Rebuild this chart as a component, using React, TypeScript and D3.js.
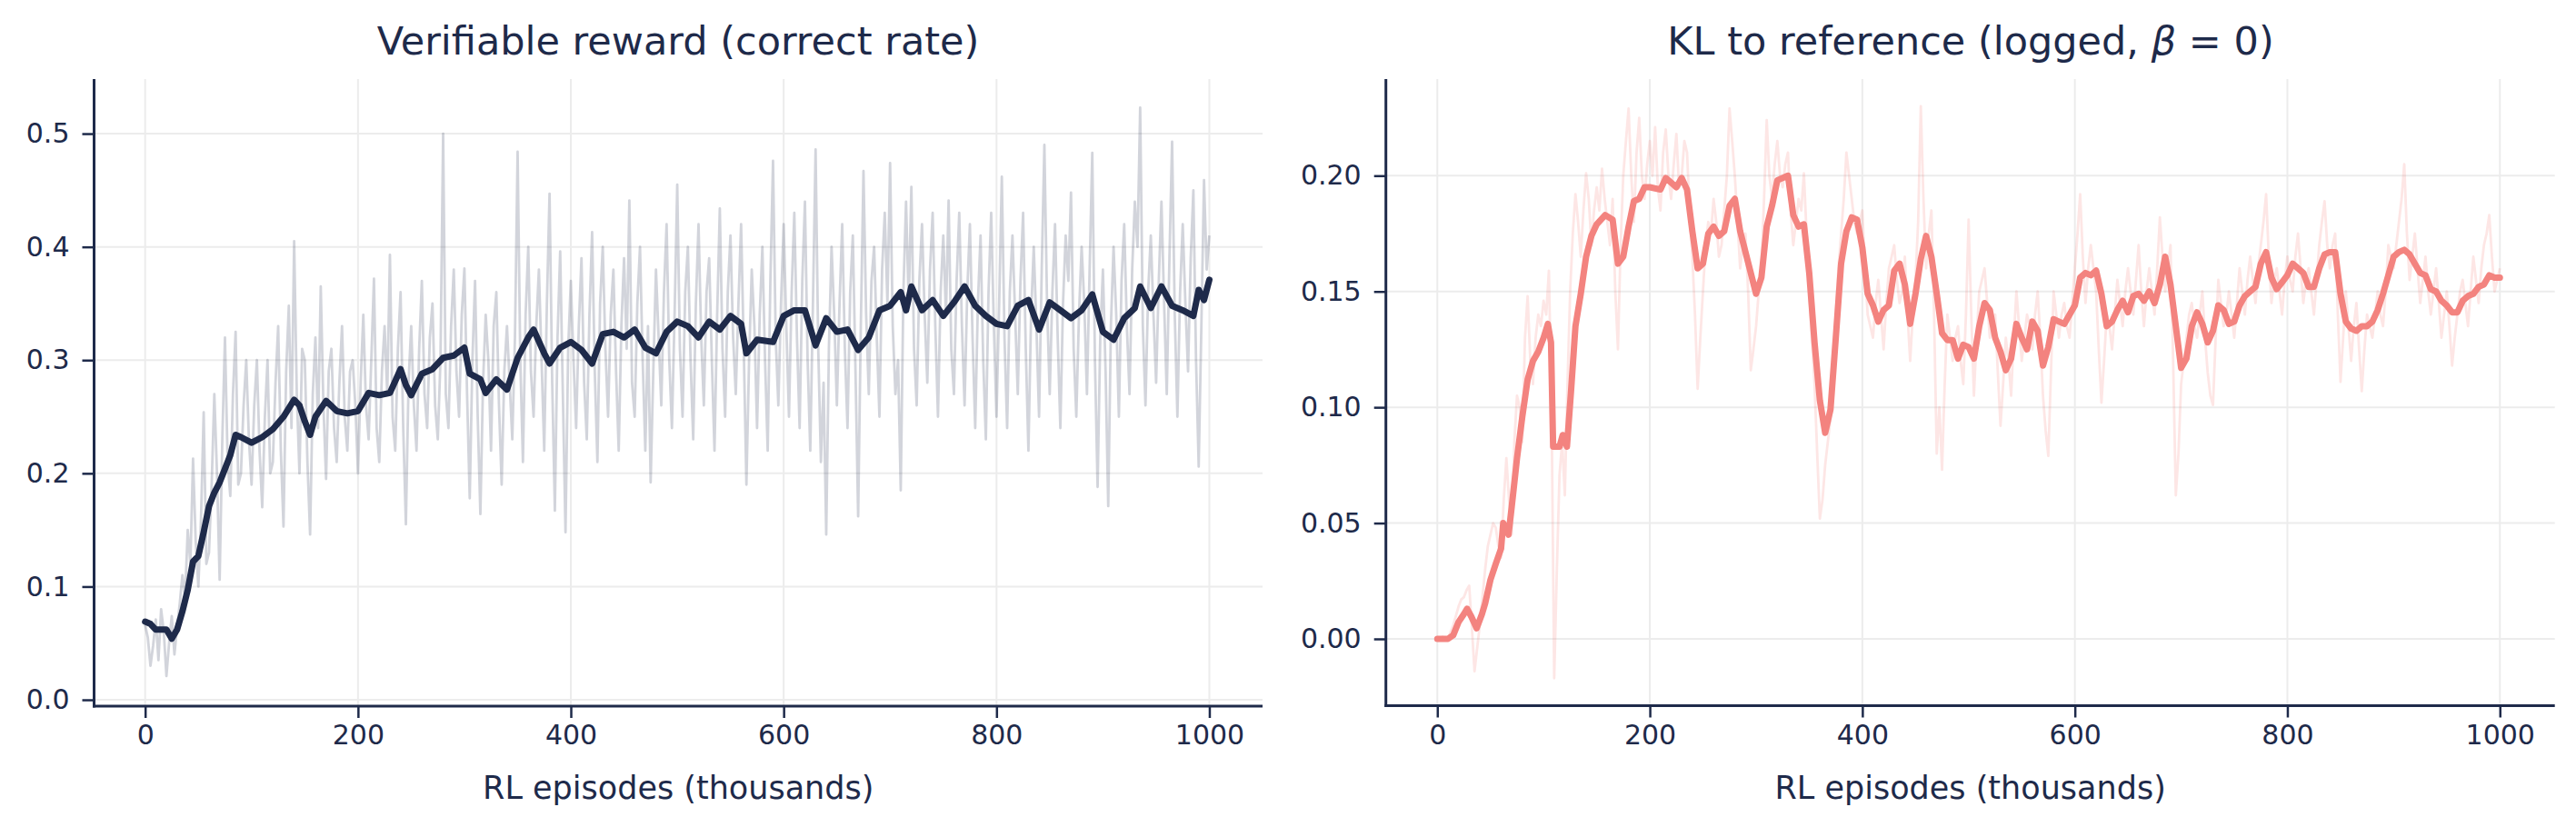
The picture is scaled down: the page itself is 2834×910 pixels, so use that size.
import { useEffect, useRef } from "react";
import * as d3 from "d3";

const NAVY = "#1e2a4a";
const CORAL = "#f3837f";
const GRID = "#ececec";

// raw series are logged every 2.5k episodes
const RAW_STEP = 2.5;

const rewardRaw = [
  0.066, 0.055, 0.03, 0.048, 0.071, 0.035, 0.08, 0.06, 0.021, 0.05, 0.074, 0.04, 0.064, 0.085, 0.11, 0.09, 0.15, 0.12, 0.213, 0.14,
  0.1, 0.16, 0.254, 0.12, 0.13, 0.19, 0.27, 0.2, 0.106, 0.23, 0.32, 0.21, 0.18, 0.27, 0.325, 0.19, 0.2, 0.26, 0.3, 0.23,
  0.19, 0.26, 0.3, 0.22, 0.17, 0.25, 0.3, 0.2, 0.21, 0.28, 0.33, 0.22, 0.153, 0.29, 0.348, 0.24, 0.405, 0.27, 0.2, 0.31,
  0.3, 0.21, 0.146, 0.27, 0.32, 0.24, 0.365, 0.26, 0.195, 0.29, 0.31, 0.24, 0.21, 0.28, 0.33, 0.25, 0.22, 0.29, 0.3, 0.26,
  0.2, 0.28, 0.34, 0.26, 0.23, 0.3, 0.372, 0.24, 0.21, 0.29, 0.33, 0.27, 0.393, 0.25, 0.22, 0.31, 0.36, 0.24, 0.155, 0.28,
  0.33, 0.26, 0.22, 0.31, 0.37, 0.27, 0.24, 0.32, 0.35, 0.26, 0.23, 0.3, 0.5, 0.27, 0.24, 0.33, 0.38, 0.29, 0.25, 0.34,
  0.381, 0.27, 0.178, 0.3, 0.37, 0.25, 0.164, 0.28, 0.34, 0.3, 0.22, 0.33, 0.36, 0.26, 0.19, 0.29, 0.33, 0.28, 0.23, 0.32,
  0.484, 0.3, 0.21, 0.34, 0.4, 0.29, 0.25, 0.33, 0.38, 0.3, 0.22, 0.35, 0.447, 0.28, 0.167, 0.32, 0.396, 0.27, 0.148, 0.31,
  0.37, 0.3, 0.24, 0.33, 0.39, 0.28, 0.23, 0.34, 0.413, 0.29, 0.21, 0.35, 0.4, 0.31, 0.25, 0.34, 0.38, 0.29, 0.22, 0.33,
  0.39, 0.31, 0.441, 0.28, 0.25, 0.35, 0.4, 0.3, 0.22, 0.33, 0.192, 0.29, 0.38, 0.32, 0.26, 0.36, 0.42, 0.3, 0.24, 0.34,
  0.455, 0.31, 0.25, 0.36, 0.4, 0.3, 0.23, 0.35, 0.42, 0.32, 0.26, 0.36, 0.39, 0.3, 0.22, 0.34, 0.434, 0.31, 0.25, 0.36,
  0.41, 0.32, 0.27, 0.35, 0.42, 0.31, 0.19, 0.3, 0.38, 0.33, 0.24, 0.34, 0.4, 0.3, 0.22, 0.37, 0.476, 0.32, 0.26, 0.35,
  0.42, 0.33, 0.25, 0.36, 0.43, 0.32, 0.24, 0.37, 0.44, 0.3, 0.22, 0.35, 0.486, 0.31, 0.21, 0.28, 0.146, 0.31, 0.4, 0.34,
  0.26, 0.35, 0.42, 0.31, 0.24, 0.36, 0.41, 0.29, 0.162, 0.33, 0.467, 0.34, 0.27, 0.37, 0.4, 0.32, 0.25, 0.38, 0.43, 0.35,
  0.474, 0.33, 0.27, 0.3, 0.185, 0.36, 0.44, 0.35, 0.453, 0.31, 0.26, 0.37, 0.42, 0.34, 0.28, 0.38, 0.43, 0.33, 0.25, 0.36,
  0.41, 0.34, 0.441, 0.31, 0.27, 0.37, 0.43, 0.33, 0.26, 0.36, 0.42, 0.32, 0.24, 0.35, 0.41, 0.3, 0.23, 0.36, 0.43, 0.33,
  0.25, 0.35, 0.462, 0.32, 0.24, 0.36, 0.41, 0.34, 0.27, 0.37, 0.43, 0.31, 0.22, 0.34, 0.4, 0.33, 0.25, 0.38, 0.49, 0.35,
  0.27, 0.36, 0.42, 0.32, 0.24, 0.35, 0.41, 0.37, 0.448, 0.31, 0.25, 0.34, 0.4, 0.35, 0.27, 0.38, 0.483, 0.3, 0.188, 0.32,
  0.38, 0.29, 0.171, 0.33, 0.4, 0.34, 0.25, 0.37, 0.42, 0.33, 0.27, 0.38, 0.44, 0.4, 0.523, 0.33, 0.26, 0.36, 0.41, 0.34,
  0.28, 0.37, 0.44, 0.35, 0.27, 0.39, 0.493, 0.34, 0.25, 0.36, 0.42, 0.35, 0.29, 0.39, 0.45, 0.3, 0.206, 0.33, 0.459, 0.38,
  0.41,
];

const rewardSmoothEp = [
  0, 5, 10, 20, 25, 30, 35, 40, 45, 50, 55, 60, 65, 70, 75, 80, 85, 90, 100, 110,
  120, 130, 140, 145, 150, 155, 160, 170, 180, 190, 200, 210, 220, 230, 240, 245, 250, 260, 270, 280,
  290, 300, 305, 315, 320, 330, 340, 350, 360, 365, 375, 380, 390, 400, 410, 420, 430, 440, 450, 460,
  470, 480, 490, 500, 510, 520, 530, 540, 550, 560, 565, 575, 590, 600, 610, 620, 630, 640, 650, 660,
  670, 680, 690, 700, 710, 715, 720, 730, 740, 750, 760, 770, 780, 790, 800, 810, 820, 830, 840, 850,
  860, 870, 880, 890, 900, 910, 920, 930, 935, 945, 955, 965, 975, 985, 990, 995, 1000,
];
const rewardSmooth = [
  0.069, 0.067, 0.062, 0.062, 0.054, 0.062, 0.078, 0.097, 0.122, 0.127, 0.148, 0.171, 0.183, 0.192, 0.204, 0.216, 0.234, 0.232, 0.227, 0.232,
  0.239, 0.25, 0.265, 0.26, 0.246, 0.234, 0.25, 0.264, 0.255, 0.253, 0.255, 0.271, 0.269, 0.271, 0.292, 0.278, 0.269, 0.288, 0.292, 0.302,
  0.304, 0.311, 0.288, 0.283, 0.271, 0.283, 0.274, 0.302, 0.32, 0.327, 0.306, 0.297, 0.311, 0.316, 0.309, 0.297, 0.323, 0.325, 0.32, 0.327,
  0.311, 0.306, 0.325, 0.334, 0.33, 0.32, 0.334, 0.327, 0.339, 0.332, 0.306, 0.318, 0.316, 0.339, 0.344, 0.344, 0.313, 0.337, 0.325, 0.327,
  0.309, 0.32, 0.344, 0.348, 0.36, 0.344, 0.365, 0.344, 0.353, 0.339, 0.351, 0.365, 0.348, 0.339, 0.332, 0.33, 0.348, 0.353, 0.327, 0.351,
  0.344, 0.337, 0.344, 0.358, 0.325, 0.318, 0.337, 0.346, 0.365, 0.346, 0.365, 0.348, 0.344, 0.339, 0.362, 0.353, 0.371,
];

const klRaw = [
  0.0, 0.0, 0.001, 0.0, 0.0, 0.003, 0.006, 0.01, 0.014, 0.017, 0.018, 0.021, 0.023, 0.005, -0.014, -0.004, 0.006, 0.018, 0.03, 0.04,
  0.045, 0.05, 0.048, 0.04, 0.035, 0.06, 0.078, 0.06, 0.045, 0.085, 0.105, 0.1, 0.085, 0.13, 0.148, 0.12, 0.11, 0.13, 0.14, 0.135,
  0.146, 0.14, 0.159, 0.1, -0.017, 0.03, 0.071, 0.085, 0.062, 0.11, 0.15, 0.175, 0.192, 0.18, 0.165, 0.185, 0.201, 0.19, 0.17, 0.185,
  0.195, 0.185, 0.203, 0.19, 0.18, 0.17, 0.19, 0.15, 0.125, 0.17, 0.2, 0.215, 0.229, 0.2, 0.18, 0.21, 0.225, 0.2, 0.19, 0.205,
  0.215, 0.2, 0.221, 0.195, 0.185, 0.21, 0.22, 0.2, 0.19, 0.205, 0.218, 0.195, 0.2, 0.215, 0.21, 0.185, 0.165, 0.14, 0.108, 0.13,
  0.15, 0.17, 0.18, 0.175, 0.19, 0.18, 0.165, 0.17, 0.185, 0.2, 0.229, 0.215, 0.2, 0.18, 0.16, 0.17, 0.175, 0.15, 0.116, 0.125,
  0.135, 0.15, 0.16, 0.19, 0.224, 0.2, 0.19, 0.205, 0.215, 0.2, 0.195, 0.205, 0.21, 0.185, 0.17, 0.18, 0.19, 0.185, 0.201, 0.175,
  0.15, 0.13, 0.11, 0.08, 0.052, 0.06, 0.075, 0.085, 0.095, 0.12, 0.14, 0.16, 0.175, 0.19, 0.21, 0.2, 0.19, 0.18, 0.175, 0.18,
  0.185, 0.16, 0.14, 0.135, 0.13, 0.145, 0.155, 0.14, 0.125, 0.145, 0.16, 0.165, 0.17, 0.155, 0.145, 0.15, 0.165, 0.14, 0.12, 0.14,
  0.155, 0.18, 0.23, 0.19, 0.16, 0.175, 0.185, 0.14, 0.08, 0.1, 0.073, 0.11, 0.14, 0.13, 0.12, 0.13, 0.135, 0.12, 0.11, 0.14,
  0.181, 0.14, 0.105, 0.13, 0.15, 0.155, 0.16, 0.145, 0.13, 0.135, 0.14, 0.115, 0.092, 0.11, 0.13, 0.12, 0.105, 0.13, 0.15, 0.135,
  0.12, 0.13, 0.14, 0.135, 0.125, 0.14, 0.15, 0.13, 0.105, 0.09, 0.079, 0.115, 0.15, 0.14, 0.13, 0.14, 0.145, 0.135, 0.13, 0.145,
  0.16, 0.175, 0.192, 0.165, 0.145, 0.16, 0.17, 0.16, 0.15, 0.125, 0.102, 0.12, 0.14, 0.135, 0.125, 0.14, 0.155, 0.145, 0.135, 0.15,
  0.16, 0.15, 0.14, 0.155, 0.17, 0.15, 0.135, 0.15, 0.16, 0.15, 0.14, 0.16, 0.182, 0.165, 0.15, 0.16, 0.17, 0.12, 0.062, 0.08,
  0.11, 0.12, 0.13, 0.14, 0.145, 0.135, 0.13, 0.14, 0.15, 0.13, 0.115, 0.105, 0.101, 0.13, 0.155, 0.145, 0.135, 0.14, 0.15, 0.14,
  0.13, 0.145, 0.16, 0.15, 0.14, 0.155, 0.165, 0.155, 0.145, 0.16, 0.17, 0.18, 0.192, 0.165, 0.145, 0.155, 0.16, 0.15, 0.14, 0.155,
  0.165, 0.155, 0.15, 0.165, 0.175, 0.16, 0.145, 0.155, 0.16, 0.15, 0.14, 0.155, 0.17, 0.18, 0.189, 0.17, 0.16, 0.17, 0.175, 0.14,
  0.111, 0.13, 0.15, 0.135, 0.12, 0.135, 0.145, 0.125, 0.107, 0.125, 0.14, 0.135, 0.13, 0.14, 0.15, 0.14, 0.135, 0.15, 0.17, 0.165,
  0.16, 0.17, 0.18, 0.19, 0.205, 0.175, 0.155, 0.165, 0.175, 0.16, 0.145, 0.155, 0.165, 0.15, 0.14, 0.15, 0.16, 0.145, 0.13, 0.14,
  0.15, 0.135, 0.118, 0.13, 0.14, 0.15, 0.155, 0.145, 0.135, 0.15, 0.165, 0.155, 0.145, 0.16, 0.17, 0.175, 0.183, 0.165, 0.15, 0.155,
  0.16,
];

const klSmoothEp = [
  0, 10, 15, 20, 25, 28, 32, 37, 42, 45, 50, 55, 60, 62, 67, 70, 75, 80, 85, 90,
  95, 100, 104, 107, 109, 115, 118, 122, 126, 130, 135, 140, 145, 150, 158, 165, 170, 175, 180, 185,
  190, 195, 200, 210, 215, 220, 225, 230, 235, 240, 245, 250, 255, 260, 265, 270, 275, 280, 285, 290,
  295, 300, 305, 310, 315, 320, 330, 335, 340, 345, 350, 355, 360, 365, 370, 375, 380, 385, 390, 395,
  400, 405, 410, 415, 420, 425, 430, 435, 440, 445, 450, 455, 460, 465, 470, 475, 480, 485, 490, 495,
  500, 505, 510, 515, 520, 525, 530, 535, 540, 545, 550, 555, 560, 565, 570, 575, 580, 585, 590, 595,
  600, 605, 610, 615, 620, 625, 630, 635, 640, 645, 650, 655, 660, 665, 670, 675, 680, 685, 690, 695,
  700, 705, 710, 715, 720, 725, 730, 735, 740, 745, 750, 755, 760, 765, 770, 775, 780, 785, 790, 795,
  800, 805, 810, 815, 820, 825, 830, 835, 840, 845, 850, 855, 860, 865, 870, 875, 880, 885, 890, 895,
  900, 905, 910, 915, 920, 925, 930, 935, 940, 945, 950, 955, 960, 965, 970, 975, 980, 985, 990, 995,
  1000,
];
const klSmooth = [
  0.0, 0.0, 0.0016, 0.0073, 0.0107, 0.013, 0.0096, 0.0046, 0.0107, 0.0153, 0.0255, 0.0324, 0.039, 0.05, 0.045, 0.057, 0.078, 0.096, 0.112, 0.12,
  0.124, 0.13, 0.136, 0.128, 0.083, 0.083, 0.088, 0.083, 0.108, 0.135, 0.149, 0.165, 0.174, 0.179, 0.183, 0.181, 0.162, 0.165, 0.178, 0.189,
  0.19, 0.195, 0.195, 0.194, 0.199, 0.197, 0.195, 0.199, 0.194, 0.176, 0.16, 0.162, 0.175, 0.178, 0.174, 0.176, 0.187, 0.19, 0.176, 0.167,
  0.158, 0.149, 0.156, 0.178, 0.187, 0.198, 0.2, 0.183, 0.178, 0.179, 0.158, 0.128, 0.103, 0.089, 0.099, 0.13, 0.162, 0.176, 0.182, 0.181,
  0.169, 0.149, 0.144, 0.137, 0.142, 0.144, 0.159, 0.162, 0.153, 0.136, 0.149, 0.164, 0.174, 0.165, 0.149, 0.132, 0.129, 0.129, 0.121, 0.127,
  0.126, 0.121, 0.135, 0.145, 0.142, 0.13, 0.124, 0.116, 0.121, 0.136, 0.13, 0.125, 0.137, 0.133, 0.118, 0.126, 0.138, 0.137, 0.136, 0.14,
  0.144, 0.156, 0.158, 0.157, 0.159, 0.149, 0.135, 0.137, 0.142, 0.146, 0.141, 0.148, 0.149, 0.146, 0.15, 0.145, 0.153, 0.165, 0.153, 0.135,
  0.117, 0.121, 0.135, 0.141, 0.136, 0.128, 0.133, 0.144, 0.142, 0.136, 0.137, 0.144, 0.148, 0.15, 0.152, 0.162, 0.167, 0.156, 0.151, 0.154,
  0.157, 0.162, 0.16, 0.158, 0.152, 0.152, 0.16, 0.166, 0.167, 0.167, 0.149, 0.137, 0.134, 0.133, 0.135, 0.135, 0.137, 0.142, 0.149, 0.157,
  0.165, 0.167, 0.168, 0.166, 0.162, 0.158, 0.157, 0.151, 0.15, 0.146, 0.144, 0.141, 0.141, 0.146, 0.148, 0.149, 0.152, 0.153, 0.157, 0.156,
  0.156,
];

const xTicks = [0, 200, 400, 600, 800, 1000];
const rewardTicks = [0, 0.1, 0.2, 0.3, 0.4, 0.5];
const klTicks = [0, 0.05, 0.1, 0.15, 0.2];

interface PanelCfg {
  box: { left: number; right: number; top: number; bottom: number };
  xDomain: [number, number];
  yDomain: [number, number];
  yTicks: number[];
  yFormat: string;
  raw: number[];
  smoothEp: number[];
  smooth: number[];
  color: string;
  rawOpacity: number;
}

function drawPanel(svg: d3.Selection<SVGSVGElement, unknown, null, undefined>, cfg: PanelCfg) {
  const { box } = cfg;
  const x = d3.scaleLinear().domain(cfg.xDomain).range([box.left, box.right]);
  const y = d3.scaleLinear().domain(cfg.yDomain).range([box.bottom, box.top]);
  const g = svg.append("g");

  // grid
  g.selectAll("line.gx")
    .data(xTicks)
    .join("line")
    .attr("x1", (d) => x(d))
    .attr("x2", (d) => x(d))
    .attr("y1", box.top)
    .attr("y2", box.bottom)
    .attr("stroke", GRID)
    .attr("stroke-width", 2);
  g.selectAll("line.gy")
    .data(cfg.yTicks)
    .join("line")
    .attr("x1", box.left)
    .attr("x2", box.right)
    .attr("y1", (d) => y(d))
    .attr("y2", (d) => y(d))
    .attr("stroke", GRID)
    .attr("stroke-width", 2);

  const rawLine = d3
    .line<number>()
    .x((_, i) => x(i * RAW_STEP))
    .y((d) => y(d));
  g.append("path")
    .datum(cfg.raw)
    .attr("fill", "none")
    .attr("stroke", cfg.color)
    .attr("stroke-opacity", cfg.rawOpacity)
    .attr("stroke-width", 2.8)
    .attr("stroke-linejoin", "round")
    .attr("d", rawLine);

  const smoothLine = d3
    .line<number>()
    .x((_, i) => x(cfg.smoothEp[i]))
    .y((d) => y(d));
  g.append("path")
    .datum(cfg.smooth)
    .attr("fill", "none")
    .attr("stroke", cfg.color)
    .attr("stroke-width", 7)
    .attr("stroke-linejoin", "round")
    .attr("stroke-linecap", "round")
    .attr("d", smoothLine);

  // axes
  const xAxis = g
    .append("g")
    .attr("transform", `translate(0,${box.bottom})`)
    .call(d3.axisBottom(x).tickValues(xTicks).tickSize(13).tickPadding(8).tickFormat(d3.format("d") as any));
  const yAxis = g
    .append("g")
    .attr("transform", `translate(${box.left},0)`)
    .call(d3.axisLeft(y).tickValues(cfg.yTicks).tickSize(13).tickPadding(14).tickFormat(d3.format(cfg.yFormat) as any));

  for (const ax of [xAxis, yAxis]) {
    ax.select(".domain").remove();
    ax.selectAll(".tick line").attr("stroke", NAVY).attr("stroke-width", 2.5);
    ax.selectAll(".tick text")
      .attr("fill", NAVY)
      .attr("font-family", "DejaVu Sans")
      .attr("font-size", 30);
  }
  xAxis.selectAll(".tick text").attr("dy", "0.71em");

  // spines
  g.append("line")
    .attr("x1", box.left)
    .attr("x2", box.left)
    .attr("y1", box.top)
    .attr("y2", box.bottom + 1.5)
    .attr("stroke", NAVY)
    .attr("stroke-width", 3);
  g.append("line")
    .attr("x1", box.left - 1.5)
    .attr("x2", box.right)
    .attr("y1", box.bottom)
    .attr("y2", box.bottom)
    .attr("stroke", NAVY)
    .attr("stroke-width", 3);

  g.append("text")
    .attr("x", (box.left + box.right) / 2)
    .attr("y", 879)
    .attr("text-anchor", "middle")
    .attr("font-family", "DejaVu Sans")
    .attr("font-size", 35)
    .attr("fill", NAVY)
    .text("RL episodes (thousands)");

  return g;
}

export default function App() {
  const svgRef = useRef<SVGSVGElement>(null);

  useEffect(() => {
    if (!svgRef.current) return;
    const svg = d3.select(svgRef.current);
    svg.selectAll("*").remove();

    const left = drawPanel(svg, {
      box: { left: 103.5, right: 1389, top: 87, bottom: 777 },
      xDomain: [-48, 1050],
      yDomain: [-0.0056, 0.5482],
      yTicks: rewardTicks,
      yFormat: ".1f",
      raw: rewardRaw,
      smoothEp: rewardSmoothEp,
      smooth: rewardSmooth,
      color: NAVY,
      rawOpacity: 0.2,
    });
    left
      .append("text")
      .attr("x", 746)
      .attr("y", 60)
      .attr("text-anchor", "middle")
      .attr("font-family", "DejaVu Sans")
      .attr("font-size", 43)
      .attr("fill", NAVY)
      .text("Verifiable reward (correct rate)");

    const right = drawPanel(svg, {
      box: { left: 1524.7, right: 2810.7, top: 87, bottom: 776.5 },
      xDomain: [-48.4, 1051.7],
      yDomain: [-0.02884, 0.24171],
      yTicks: klTicks,
      yFormat: ".2f",
      raw: klRaw,
      smoothEp: klSmoothEp,
      smooth: klSmooth,
      color: CORAL,
      rawOpacity: 0.2,
    });
    const title = right
      .append("text")
      .attr("x", 2168)
      .attr("y", 60)
      .attr("text-anchor", "middle")
      .attr("font-family", "DejaVu Sans")
      .attr("font-size", 43)
      .attr("fill", NAVY);
    title.append("tspan").text("KL to reference (logged, ");
    title.append("tspan").attr("font-style", "italic").text("β");
    title.append("tspan").text(" = 0)");
  }, []);

  return (
    <svg
      ref={svgRef}
      width={2834}
      height={910}
      style={{ position: "absolute", left: 0, top: 0, background: "#fff" }}
    />
  );
}
